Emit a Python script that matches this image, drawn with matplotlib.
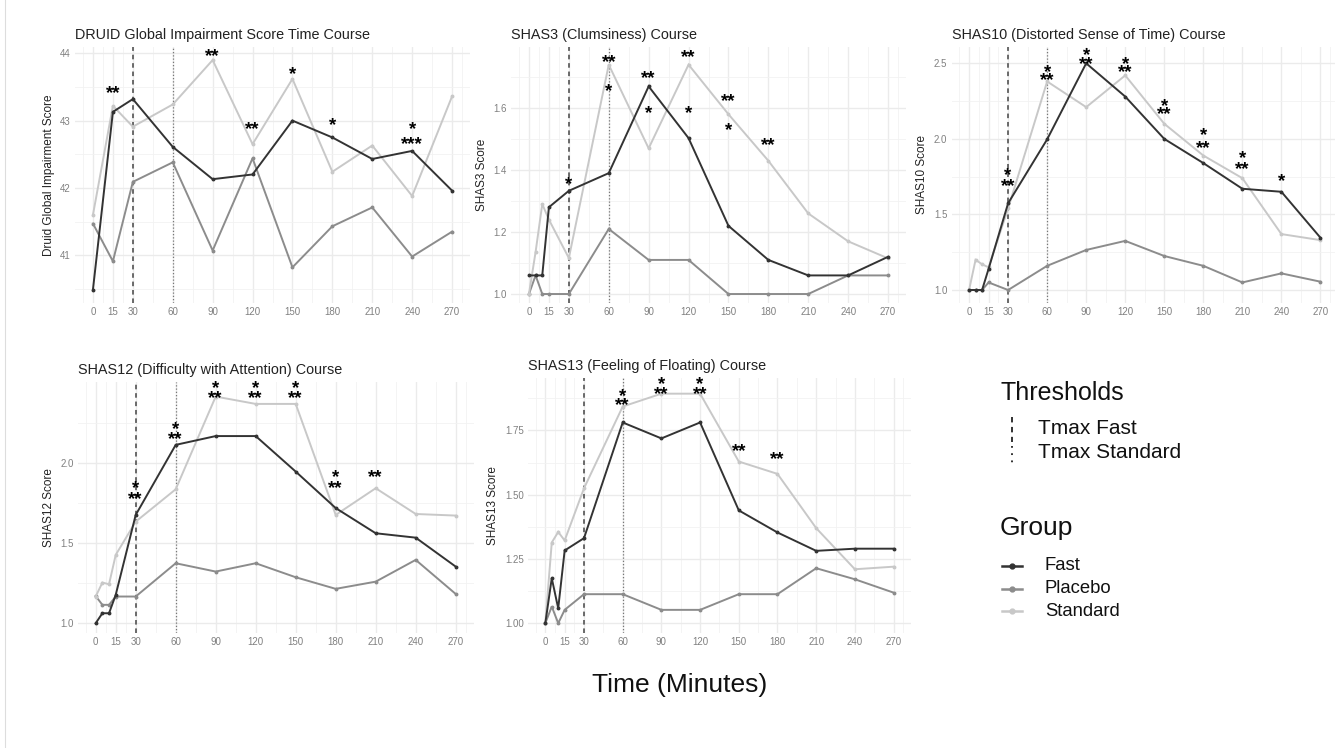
import matplotlib
matplotlib.use("Agg")
import matplotlib.pyplot as plt
from matplotlib.lines import Line2D
from matplotlib import transforms
from matplotlib.font_manager import FontProperties
import numpy as np

plt.rcParams['font.family'] = ['Liberation Sans', 'DejaVu Sans']

W, H = 1335, 748

# ---------------- data ----------------
TIMES_DRUID = [0, 15, 30, 60, 90, 120, 150, 180, 210, 240, 270]
TIMES_SHAS = [0, 5, 10, 15, 30, 60, 90, 120, 150, 180, 210, 240, 270]
XTICKS = [0, 15, 30, 60, 90, 120, 150, 180, 210, 240, 270]

druid_fast = [40.49, 43.13, 43.32, 42.61, 42.13, 42.20, 43.00, 42.75, 42.43, 42.55, 41.96]
druid_placebo = [41.47, 40.91, 42.09, 42.38, 41.07, 42.44, 40.82, 41.43, 41.71, 40.98, 41.35]
druid_standard = [41.60, 43.22, 42.91, 43.24, 43.90, 42.65, 43.62, 42.24, 42.63, 41.88, 43.36]
# significance marks: time, label(s), y of top line, y of second line (None if single)
druid_sig_t = [15, 90, 120, 150, 180, 240]
druid_sig_lab = ['**', '**', '**', '*', '*', '*\n***']
druid_sig_y = [43.48, 44.02, 42.94, 43.76, 43.00, 42.94]
druid_sig_y2 = [None, None, None, None, None, 42.72]

shas3_fast = [1.06, 1.06, 1.06, 1.28, 1.333, 1.39, 1.67, 1.503, 1.22, 1.11, 1.06, 1.06, 1.12]
shas3_placebo = [1.0, 1.06, 1.0, 1.0, 1.0, 1.21, 1.11, 1.11, 1.0, 1.0, 1.0, 1.06, 1.06]
shas3_standard = [1.0, 1.136, 1.29, 1.24, 1.116, 1.74, 1.47, 1.74, 1.58, 1.43, 1.26, 1.17, 1.115]
shas3_sig_t = [30, 60, 60, 90, 90, 120, 120, 150, 150, 180]
shas3_sig_lab = ['*', '**', '*', '**', '*', '**', '*', '**', '*', '**']
shas3_sig_y = [1.37, 1.764, 1.67, 1.71, 1.60, 1.78, 1.60, 1.637, 1.544, 1.496]
shas3_sig_y2 = [None] * 10

shas10_fast = [1.0, 1.0, 1.0, 1.14, 1.574, 1.997, 2.50, 2.28, 2.00, 1.84, 1.67, 1.65, 1.346]
shas10_placebo = [1.0, 1.0, 1.0, 1.05, 1.0, 1.16, 1.265, 1.325, 1.225, 1.16, 1.05, 1.11, 1.055]
shas10_standard = [1.0, 1.20, 1.17, 1.15, 1.54, 2.38, 2.21, 2.42, 2.10, 1.89, 1.74, 1.37, 1.33]
shas10_sig_t = [30, 60, 90, 120, 150, 180, 210, 240]
shas10_sig_lab = ['*\n**'] * 7 + ['*']
shas10_sig_y = [1.79, 2.47, 2.585, 2.527, 2.25, 2.054, 1.90, 1.75]
shas10_sig_y2 = [1.717, 2.416, 2.527, 2.47, 2.196, 1.97, 1.83, None]

shas12_fast = [1.0, 1.0625, 1.0625, 1.177, 1.677, 2.115, 2.17, 2.17, 1.948, 1.72, 1.5625, 1.535, 1.354]
shas12_placebo = [1.17, 1.115, 1.115, 1.167, 1.167, 1.375, 1.323, 1.375, 1.2875, 1.215, 1.26, 1.396, 1.183]
shas12_standard = [1.167, 1.254, 1.244, 1.427, 1.635, 1.8375, 2.417, 2.371, 2.371, 1.677, 1.844, 1.683, 1.673]
shas12_sig_t = [30, 60, 90, 120, 150, 180, 210]
shas12_sig_lab = ['*\n**'] * 6 + ['**']
shas12_sig_y = [1.871, 2.24, 2.496, 2.496, 2.496, 1.94, 1.94]
shas12_sig_y2 = [1.806, 2.177, 2.4375, 2.4375, 2.4375, 1.871, None]

shas13_fast = [1.0, 1.175, 1.058, 1.283, 1.331, 1.781, 1.719, 1.781, 1.439, 1.353, 1.2816, 1.29, 1.29]
shas13_placebo = [1.0, 1.065, 1.0, 1.052, 1.113, 1.113, 1.052, 1.052, 1.113, 1.113, 1.214, 1.171, 1.119]
shas13_standard = [1.0, 1.314, 1.355, 1.322, 1.525, 1.843, 1.893, 1.893, 1.629, 1.581, 1.37, 1.21, 1.22]
shas13_sig_t = [60, 90, 120, 150, 180]
shas13_sig_lab = ['*\n**', '*\n**', '*\n**', '**', '**']
shas13_sig_y = [1.90, 1.947, 1.947, 1.688, 1.655]
shas13_sig_y2 = [1.865, 1.911, 1.911, None, None]

TMAX_FAST = 30
TMAX_STANDARD = 60

GROUPS = ['Fast', 'Placebo', 'Standard']
COLORS = {'Fast': '#333333', 'Placebo': '#8c8c8c', 'Standard': '#c8c8c8'}
ZORDER = {'Fast': 5, 'Placebo': 3, 'Standard': 4}

STAR_FS = 13.5  # points

# ---------------- figure ----------------
fig = plt.figure(figsize=(W / 100, H / 100), dpi=100)
fig.patch.set_facecolor('white')
renderer = fig.canvas.get_renderer()
star_fp = FontProperties(family=['Liberation Sans'], weight='bold', size=STAR_FS)
_, lp_h, lp_d = renderer.get_text_width_height_descent('lp', star_fp, ismath=False)
_, st_h, st_d = renderer.get_text_width_height_descent('*', star_fp, ismath=False)
STAR_C = (st_h - 2 * st_d) / 2.0       # star centre above baseline (px)
LP_ASC = lp_h - lp_d                   # top of line box above baseline (px)


def ax_at(l, t, r, b):
    return fig.add_axes([l / W, 1 - b / H, (r - l) / W, (b - t) / H])


def panel(box, times, series, ylim, yticks, yminor, yfmt, title, ylabel,
          sig_t, sig_lab, sig_y, sig_y2):
    ax = ax_at(*box)
    ax.set_xlim(-13.5, 283.5)
    ax.set_ylim(*ylim)
    for s in ax.spines.values():
        s.set_visible(False)
    # grid
    xminor = [-7.5, 7.5, 22.5, 45, 75, 105, 135, 165, 195, 225, 255, 277.5]
    for x in XTICKS:
        ax.axvline(x, color='#ebebeb', lw=1.0, zorder=0)
    for x in xminor:
        ax.axvline(x, color='#f2f2f2', lw=0.6, zorder=0)
    for y in yticks:
        ax.axhline(y, color='#ebebeb', lw=1.0, zorder=0)
    for y in yminor:
        ax.axhline(y, color='#f2f2f2', lw=0.6, zorder=0)
    ax.set_xticks(XTICKS)
    ax.set_xticklabels([str(x) for x in XTICKS])
    ax.set_yticks(yticks)
    ax.set_yticklabels([yfmt.format(v) for v in yticks])
    ax.tick_params(axis='both', length=0, labelsize=7, labelcolor='#808080', pad=3)
    # threshold lines
    ax.axvline(TMAX_FAST, color='#444444', lw=1.1, ls=(0, (3, 2.5)), zorder=2)
    ax.axvline(TMAX_STANDARD, color='#777777', lw=0.9, ls=(0, (1, 1.6)), zorder=2)
    for g in GROUPS:
        ax.plot(times, series[g], color=COLORS[g], lw=1.4, marker='o', ms=1.8,
                zorder=ZORDER[g], solid_joinstyle='miter')
    # significance stars (top of text box placed so that star centres hit the values)
    tr = transforms.offset_copy(ax.transData, fig=fig, y=(LP_ASC - STAR_C) * 72 / 100.0,
                                units='points')
    for t, lab, y1, y2 in zip(sig_t, sig_lab, sig_y, sig_y2):
        ls = 1.0
        if y2 is not None:
            p1 = ax.transData.transform((t, y1))[1]
            p2 = ax.transData.transform((t, y2))[1]
            gap = abs(p1 - p2)
            ls = max(0.05, (gap - lp_d) / LP_ASC)
        ax.text(t, y1, lab, ha='center', va='top', multialignment='center',
                fontproperties=star_fp, color='black', zorder=6,
                clip_on=False, transform=tr, linespacing=ls)
    l, tp, r, b = box
    fig.text(l / W, 1 - (tp - 12) / H, title, fontsize=10.4, color='#222222',
             ha='left', va='center')
    ax.set_ylabel(ylabel, fontsize=8.5, color='#222222', labelpad=4)
    return ax


panel((75, 47, 470, 303), TIMES_DRUID,
      {'Fast': druid_fast, 'Placebo': druid_placebo, 'Standard': druid_standard},
      (40.29, 44.094), [41, 42, 43, 44], [40.5, 41.5, 42.5, 43.5], '{:.0f}',
      'DRUID Global Impairment Score Time Course', 'Druid Global Impairment Score',
      druid_sig_t, druid_sig_lab, druid_sig_y, druid_sig_y2)

panel((511, 47, 906, 303), TIMES_SHAS,
      {'Fast': shas3_fast, 'Placebo': shas3_placebo, 'Standard': shas3_standard},
      (0.971, 1.797), [1.0, 1.2, 1.4, 1.6], [1.1, 1.3, 1.5, 1.7], '{:.1f}',
      'SHAS3 (Clumsiness) Course', 'SHAS3 Score',
      shas3_sig_t, shas3_sig_lab, shas3_sig_y, shas3_sig_y2)

panel((951.5, 47, 1338, 303), TIMES_SHAS,
      {'Fast': shas10_fast, 'Placebo': shas10_placebo, 'Standard': shas10_standard},
      (0.914, 2.608), [1.0, 1.5, 2.0, 2.5], [1.25, 1.75, 2.25], '{:.1f}',
      'SHAS10 (Distorted Sense of Time) Course', 'SHAS10 Score',
      shas10_sig_t, shas10_sig_lab, shas10_sig_y, shas10_sig_y2)

panel((77.7, 382, 473.7, 633), TIMES_SHAS,
      {'Fast': shas12_fast, 'Placebo': shas12_placebo, 'Standard': shas12_standard},
      (0.939, 2.508), [1.0, 1.5, 2.0], [1.25, 1.75, 2.25], '{:.1f}',
      'SHAS12 (Difficulty with Attention) Course', 'SHAS12 Score',
      shas12_sig_t, shas12_sig_lab, shas12_sig_y, shas12_sig_y2)

panel((527.9, 378, 911, 633), TIMES_SHAS,
      {'Fast': shas13_fast, 'Placebo': shas13_placebo, 'Standard': shas13_standard},
      (0.962, 1.954), [1.0, 1.25, 1.5, 1.75], [1.125, 1.375, 1.625, 1.875], '{:.2f}',
      'SHAS13 (Feeling of Floating) Course', 'SHAS13 Score',
      shas13_sig_t, shas13_sig_lab, shas13_sig_y, shas13_sig_y2)

# ---------------- shared x label ----------------
fig.text(680 / W, 1 - 685 / H, 'Time (Minutes)', fontsize=19, color='#111111',
         ha='center', va='center')

# ---------------- legends ----------------
def fx(x):
    return x / W


def fy(y):
    return 1 - y / H


fig.text(fx(1000), fy(393), 'Thresholds', fontsize=18, color='#111111', ha='left', va='center')
fig.add_artist(Line2D([fx(1011.7), fx(1011.7)], [fy(417), fy(442)], color='#222222',
                      lw=1.3, ls=(0, (3, 2.5))))
fig.add_artist(Line2D([fx(1011.7), fx(1011.7)], [fy(446), fy(464)], color='#222222',
                      lw=1.3, ls=(0, (1, 3))))
fig.text(fx(1038), fy(429), 'Tmax Fast', fontsize=15, color='#111111', ha='left', va='center')
fig.text(fx(1038), fy(452), 'Tmax Standard', fontsize=15, color='#111111', ha='left', va='center')

fig.text(fx(1000), fy(528), 'Group', fontsize=19, color='#111111', ha='left', va='center')
for i, g in enumerate(GROUPS):
    y = 566 + i * 22.7
    fig.add_artist(Line2D([fx(1001.7), fx(1021.7)], [fy(y), fy(y)], color=COLORS[g], lw=1.8))
    fig.add_artist(Line2D([fx(1011.7)], [fy(y)], color=COLORS[g], marker='o', ms=3.5, lw=0))
    fig.text(fx(1045), fy(y), g, fontsize=13.3, color='#111111', ha='left', va='center')

# thin frame line at the left
fig.add_artist(Line2D([fx(5), fx(5)], [0, 1], color='#dddddd', lw=0.8))

fig.savefig('out.png', dpi=100, facecolor='white')
